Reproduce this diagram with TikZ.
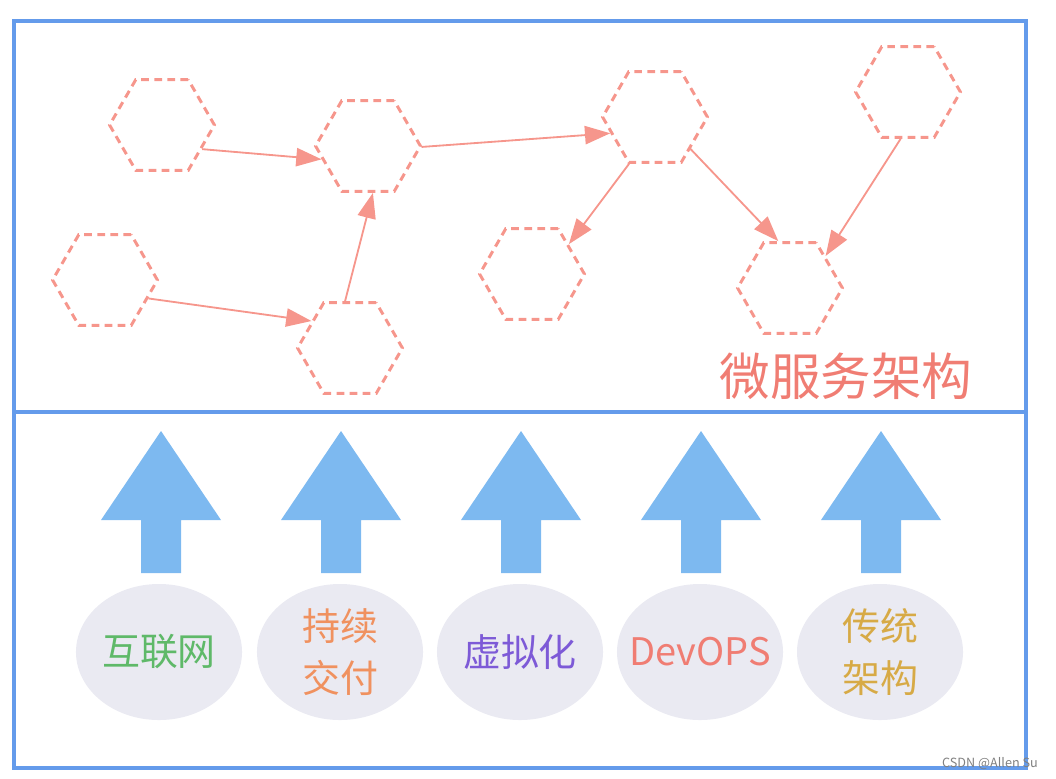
\documentclass[tikz,border=0pt]{standalone}
\usepackage{fontspec}
\setmainfont{Noto Sans CJK SC}
\usetikzlibrary{arrows.meta,shapes.geometric,positioning}

\definecolor{frameblue}{RGB}{100,155,235}
\definecolor{hexred}{RGB}{246,150,140}
\definecolor{upblue}{RGB}{125,185,240}
\definecolor{ellgray}{RGB}{234,234,242}
\definecolor{txtgreen}{RGB}{95,185,105}
\definecolor{txtorange}{RGB}{240,145,95}
\definecolor{txtpurple}{RGB}{125,90,215}
\definecolor{txtsalmon}{RGB}{240,125,115}
\definecolor{txtgold}{RGB}{215,170,70}

\begin{document}
\begin{tikzpicture}[x=0.025cm,y=-0.025cm,
                hex/.style={regular polygon,regular polygon sides=6,minimum size=2.62cm,
                    inner sep=0pt,draw=hexred,line width=2.1pt,dash pattern=on 5.5pt off 3.8pt},
                link/.style={-{Triangle[length=18pt,width=13pt]},color=hexred,line width=1.3pt},
                frame/.style={draw=frameblue,line width=2.2pt},
                base/.style={ellipse,fill=ellgray,minimum width=4.15cm,minimum height=3.4cm,
                    inner sep=0pt,align=center,font=\fontsize{27}{37}\selectfont}]
            \useasboundingbox (0,0) rectangle (1056,778);
            \draw[frame] (14,21) rectangle (1026,768);
            \draw[frame] (14,412) -- (1026,412);
            % services
            \node [hex] (h1) at (162,125) {};
            \node [hex] (h2) at (368,146) {};
            \node [hex] (h3) at (105,280) {};
            \node [hex] (h4) at (350,348) {};
            \node [hex] (h5) at (655,117) {};
            \node [hex] (h6) at (908,92)  {};
            \node [hex] (h7) at (532,274) {};
            \node [hex] (h8) at (790,288) {};
            \path   (h1.-31)  edge [link] (h2.196)
            (h3.-23)  edge [link] (h4.145)
            (h4.96)   edge [link] (h2.-84)
            (h2.-1)   edge [link] (h5.200)
            (h5.241)  edge [link] (h7.39)
            (h5.-42)  edge [link] (h8.104)
            (h6.-99)  edge [link] (h8.42);
            \node [text=txtsalmon,font=\fontsize{36}{36}\selectfont] (title) at (846,376) {微服务架构};
            % driving forces
            \foreach \x in {161,341,521,701,881}
                \fill [upblue] (\x,431) -- (\x+60,520) -- (\x+20,520) -- (\x+20,573)
                    -- (\x-20,573) -- (\x-20,520) -- (\x-60,520) -- cycle;
            \node [base,text=txtgreen]  (b1) at (159,652) {互联网};
            \node [base,text=txtorange] (b2) at (340,652) {持续\\交付};
            \node [base,text=txtpurple] (b3) at (520,652) {虚拟化};
            \node [base,text=txtsalmon,inner xsep=-11pt] (b4) at (700,652) {DevOPS};
            \node [base,text=txtgold]   (b5) at (880,652) {传统\\架构};
            \node [text=gray,font=\fontsize{9}{9}\selectfont] (mark) at (990,764) {CSDN @Allen Su};
        \end{tikzpicture}
\end{document}
